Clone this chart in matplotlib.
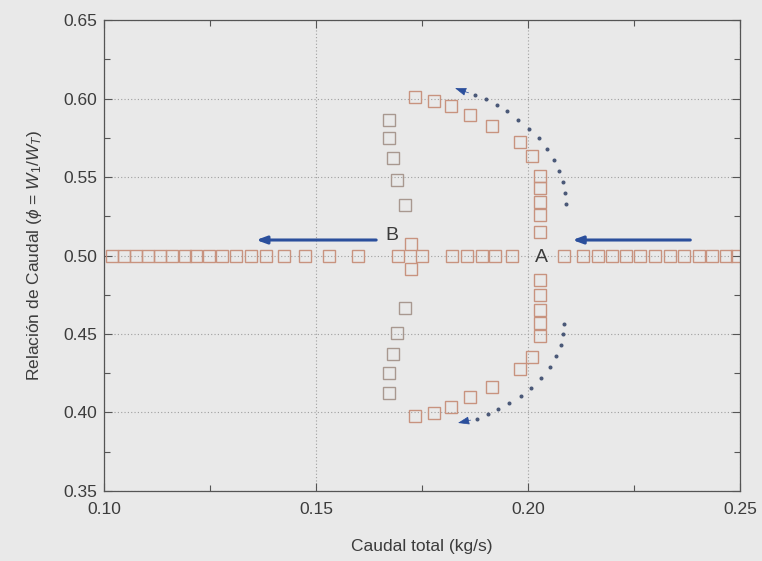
import matplotlib
matplotlib.use("Agg")
import matplotlib.pyplot as plt
from matplotlib.ticker import MultipleLocator

plt.rcParams['font.family'] = ['Liberation Sans', 'DejaVu Sans']
plt.rcParams['mathtext.fontset'] = 'custom'
plt.rcParams['mathtext.rm'] = 'Liberation Sans'
plt.rcParams['mathtext.it'] = 'Liberation Sans:italic'
plt.rcParams['mathtext.sf'] = 'Liberation Sans'

# ---- data ----
# horizontal branch at phi = 0.5
row_x = [0.1018, 0.1047, 0.1075, 0.1104, 0.1133, 0.1161, 0.1190, 0.1218, 0.1247,
         0.1279, 0.1312, 0.1347, 0.1382, 0.1425, 0.1473, 0.1530, 0.1599,
         0.1694, 0.1751, 0.1820, 0.1857, 0.1891, 0.1923, 0.1962,
         0.2085, 0.2131, 0.2165, 0.2199, 0.2231, 0.2265, 0.2300, 0.2334,
         0.2368, 0.2403, 0.2435, 0.2468, 0.2494]
row_y = [0.50] * len(row_x)

# point B cross (vertical neighbours)
cross_x = [0.1723, 0.1723]
cross_y = [0.5076, 0.4912]

# left branch (upper and lower)
left_x = [0.1672, 0.1672, 0.1682, 0.1692, 0.1709,
          0.1709, 0.1692, 0.1682, 0.1672, 0.1672]
left_y = [0.5867, 0.5746, 0.5621, 0.5479, 0.5322,
          0.4666, 0.4507, 0.4370, 0.4249, 0.4126]

# upper arc and right column
upper_x = [0.1733, 0.1778, 0.1819, 0.1864, 0.1915, 0.1981, 0.2009,
           0.2028, 0.2028, 0.2028, 0.2028, 0.2028]
upper_y = [0.6010, 0.5987, 0.5951, 0.5896, 0.5823, 0.5721, 0.5634,
           0.5506, 0.5428, 0.5343, 0.5258, 0.5152]

# lower column and lower arc
lower_x = [0.2028, 0.2028, 0.2028, 0.2028, 0.2028,
           0.2009, 0.1981, 0.1915, 0.1864, 0.1819, 0.1778, 0.1733]
lower_y = [0.4844, 0.4748, 0.4653, 0.4572, 0.4487,
           0.4354, 0.4274, 0.4165, 0.4101, 0.4035, 0.3999, 0.3978]

# dotted trajectory arcs
dots_up_x = [0.2090, 0.2087, 0.2083, 0.2074, 0.2062, 0.2046, 0.2026,
             0.2002, 0.1977, 0.1951, 0.1926, 0.1901, 0.1875]
dots_up_y = [0.5328, 0.5396, 0.5466, 0.5538, 0.5608, 0.5676, 0.5746,
             0.5807, 0.5867, 0.5920, 0.5959, 0.5995, 0.6022]
dots_lo_x = [0.2086, 0.2083, 0.2077, 0.2066, 0.2052, 0.2031, 0.2007,
             0.1983, 0.1956, 0.1930, 0.1905, 0.1880]
dots_lo_y = [0.4564, 0.4498, 0.4428, 0.4360, 0.4292, 0.4222, 0.4156,
             0.4105, 0.4059, 0.4020, 0.3991, 0.3961]
tip_up = (0.1828, 0.6067)
tip_lo = (0.1835, 0.3933)

# straight arrows (start, end)
arrowB = ((0.1642, 0.5099), (0.1359, 0.5099))
arrowA = ((0.2383, 0.5099), (0.2105, 0.5099))

label_B = (0.1678, 0.5126)
label_A = (0.2032, 0.4990)

xticks = [0.10, 0.15, 0.20, 0.25]
yticks = [0.35, 0.40, 0.45, 0.50, 0.55, 0.60, 0.65]

# ---- styles ----
bg = '#e9e9e9'
sq_col = '#c8937f'
sq_col2 = '#a89890'
blue = '#2b4f9c'
txt = '#3c3c3c'

fig = plt.figure(figsize=(7.62, 5.61), dpi=100, facecolor=bg)
ax = fig.add_axes([0.1365, 0.125, 0.8345, 0.839])
ax.set_facecolor(bg)

ax.set_xlim(0.10, 0.25)
ax.set_ylim(0.35, 0.65)
ax.set_xticks(xticks)
ax.set_yticks(yticks)
ax.set_xticklabels([f'{v:.2f}' for v in xticks])
ax.set_yticklabels([f'{v:.2f}' for v in yticks])
ax.xaxis.set_minor_locator(MultipleLocator(0.025))
ax.yaxis.set_minor_locator(MultipleLocator(0.025))
ax.tick_params(which='both', direction='in', top=True, right=True,
               colors='#555555', labelcolor=txt, labelsize=12.5)
ax.tick_params(which='major', length=6, width=0.8)
ax.tick_params(which='minor', length=4, width=0.8)
ax.tick_params(axis='x', pad=8)
ax.tick_params(axis='y', pad=5)
for s in ax.spines.values():
    s.set_color('#555555')
    s.set_linewidth(0.9)

ax.grid(True, which='major', linestyle=(0, (1, 2)), color='#a0a0a0', linewidth=0.8)
ax.set_axisbelow(True)

mk = dict(marker='s', markersize=8.2, markerfacecolor='none', linestyle='none',
          markeredgewidth=1.0)
ax.plot(row_x, row_y, markeredgecolor=sq_col, **mk)
ax.plot(cross_x, cross_y, markeredgecolor=sq_col, **mk)
ax.plot(left_x, left_y, markeredgecolor=sq_col2, **mk)
ax.plot(upper_x, upper_y, markeredgecolor=sq_col, **mk)
ax.plot(lower_x, lower_y, markeredgecolor=sq_col, **mk)

ax.plot(dots_up_x, dots_up_y, linestyle='none', marker='o', markersize=1.9,
        color='#4a5878')
ax.plot(dots_lo_x, dots_lo_y, linestyle='none', marker='o', markersize=1.9,
        color='#4a5878')
ax.annotate('', xy=tip_up, xytext=(dots_up_x[-1] - 0.0015, dots_up_y[-1] + 0.0015),
            arrowprops=dict(arrowstyle='-|>,head_length=0.7,head_width=0.25',
                            color=blue, lw=0.5, shrinkA=0, shrinkB=0))
ax.annotate('', xy=tip_lo, xytext=(dots_lo_x[-1] - 0.0015, dots_lo_y[-1] - 0.0010),
            arrowprops=dict(arrowstyle='-|>,head_length=0.7,head_width=0.25',
                            color=blue, lw=0.5, shrinkA=0, shrinkB=0))

for (start, end) in (arrowB, arrowA):
    ax.annotate('', xy=end, xytext=start,
                arrowprops=dict(arrowstyle='-|>,head_length=0.6,head_width=0.22',
                                color=blue, lw=2.2, shrinkA=0, shrinkB=0))

ax.text(label_B[0], label_B[1], 'B', fontsize=14, color=txt, ha='center', va='center')
ax.text(label_A[0], label_A[1], 'A', fontsize=14, color=txt, ha='center', va='center')

ax.set_xlabel('Caudal total (kg/s)', fontsize=12.5, color=txt, labelpad=16)
ax.set_ylabel(r'Relación de Caudal ($\phi$ = $W_1/W_T$)', fontsize=12.5, color=txt,
              labelpad=14)

fig.savefig('out.png', dpi=100, facecolor=bg)
